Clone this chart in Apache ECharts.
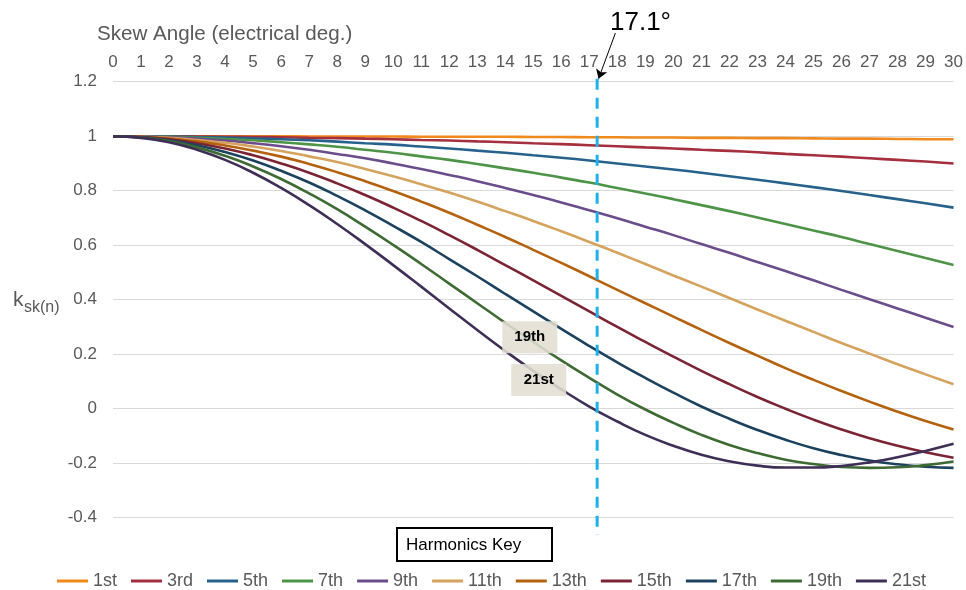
<!DOCTYPE html>
<html>
<head>
<meta charset="utf-8">
<script src="https://cdn.jsdelivr.net/npm/echarts@6/dist/echarts.min.js"></script>
<style>
html,body{margin:0;padding:0;background:#fff;}
#chart{width:966px;height:590px;}
</style>
</head>
<body>
<div id="chart"></div>
<script>
// Skew angle (electrical degrees) – x values
const angles = [0,1,2,3,4,5,6,7,8,9,10,11,12,13,14,15,16,17,18,19,20,21,22,23,24,25,26,27,28,29,30];

// Harmonic names (legend)
const harmonicNames = ['1st','3rd','5th','7th','9th','11th','13th','15th','17th','19th','21st'];

// k_sk(n) values, one array per harmonic
const h1  = [1,1,1,1,1,1,1,0.999,0.999,0.999,0.999,0.998,0.998,0.998,0.998,0.997,0.997,0.996,0.996,0.995,0.995,0.994,0.994,0.993,0.993,0.992,0.991,0.991,0.990,0.989,0.989];
const h3  = [1,1,1,0.999,0.998,0.997,0.996,0.994,0.993,0.991,0.989,0.986,0.984,0.981,0.978,0.974,0.971,0.967,0.963,0.959,0.955,0.950,0.946,0.941,0.935,0.930,0.925,0.919,0.913,0.907,0.900];
const h5  = [1,1,0.999,0.997,0.995,0.992,0.989,0.985,0.980,0.974,0.969,0.962,0.955,0.947,0.939,0.930,0.921,0.911,0.900,0.889,0.878,0.866,0.853,0.840,0.827,0.813,0.799,0.784,0.769,0.754,0.738];
const h7  = [1,0.999,0.998,0.994,0.990,0.985,0.978,0.970,0.961,0.950,0.939,0.926,0.913,0.898,0.882,0.866,0.848,0.830,0.810,0.790,0.769,0.747,0.725,0.702,0.678,0.654,0.630,0.604,0.579,0.553,0.527];
const h9  = [1,0.999,0.996,0.991,0.984,0.974,0.963,0.950,0.935,0.919,0.900,0.880,0.858,0.835,0.810,0.784,0.757,0.728,0.699,0.668,0.637,0.604,0.572,0.538,0.505,0.471,0.436,0.402,0.368,0.334,0.300];
const h11 = [1,0.998,0.994,0.986,0.976,0.962,0.946,0.926,0.905,0.880,0.853,0.824,0.793,0.760,0.725,0.689,0.651,0.612,0.572,0.531,0.489,0.448,0.406,0.364,0.323,0.282,0.241,0.202,0.163,0.126,0.090];
const h13 = [1,0.998,0.991,0.981,0.966,0.947,0.925,0.898,0.868,0.835,0.799,0.760,0.719,0.675,0.630,0.583,0.535,0.486,0.436,0.387,0.338,0.289,0.241,0.195,0.149,0.106,0.065,0.026,-0.011,-0.045,-0.076];
const h15 = [1,0.997,0.989,0.974,0.955,0.930,0.900,0.866,0.827,0.784,0.738,0.689,0.637,0.583,0.527,0.471,0.414,0.357,0.300,0.245,0.191,0.139,0.090,0.043,0,-0.040,-0.076,-0.108,-0.136,-0.160,-0.180];
const h17 = [1,0.996,0.985,0.967,0.942,0.911,0.873,0.830,0.781,0.728,0.671,0.612,0.549,0.486,0.421,0.357,0.293,0.230,0.170,0.113,0.059,0.008,-0.037,-0.078,-0.114,-0.145,-0.170,-0.190,-0.204,-0.213,-0.217];
const h19 = [1,0.995,0.982,0.959,0.928,0.889,0.843,0.790,0.732,0.668,0.601,0.531,0.459,0.387,0.315,0.245,0.177,0.113,0.052,-0.003,-0.052,-0.096,-0.133,-0.163,-0.187,-0.203,-0.214,-0.217,-0.215,-0.207,-0.194];
const h21 = [1,0.994,0.978,0.950,0.913,0.866,0.810,0.747,0.678,0.604,0.527,0.448,0.368,0.289,0.212,0.139,0.071,0.008,-0.047,-0.096,-0.136,-0.169,-0.193,-0.209,-0.216,-0.216,-0.210,-0.197,-0.178,-0.155,-0.129];

const seriesValues = [h1,h3,h5,h7,h9,h11,h13,h15,h17,h19,h21];
const colors = ['#F08A1D','#A4303F','#27628C','#4D9447','#6B4D8C','#D6A35E','#B5620F','#7B2433','#1C425E','#3E6A33','#3F2F57'];

// Marked skew angle and annotation extents (annotation axis values)
const markAngle = 17.25;
const markLabel = '17.1°';
const yTicks = {min:-0.4, max:1.2, interval:0.2};

const FONT = '"Liberation Sans", Arial, sans-serif';

const chart = echarts.init(document.getElementById('chart'), null, {renderer:'canvas'});

const series = harmonicNames.map((name, i) => {
  const s = {
    name: name,
    type: 'line',
    xAxisIndex: 0,
    yAxisIndex: 0,
    data: angles.map((a, j) => [a, seriesValues[i][j]]),
    symbol: 'none',
    smooth: true,
    lineStyle: {color: colors[i], width: 2.6},
    itemStyle: {color: colors[i]},
    emphasis: {disabled: true},
    z: 2
  };
  if (name === '19th' || name === '21st') {
    const coord = name === '19th' ? [14.875, 0.262] : [15.195, 0.105];
    s.markPoint = {
      silent: true,
      symbol: 'rect',
      symbolSize: [55, 32],
      itemStyle: {color: 'rgba(226,222,210,0.88)'},
      label: {show: true, position: 'inside', formatter: name, color: '#000', fontSize: 15, fontWeight: 'bold', fontFamily: FONT},
      data: [{coord: coord}],
      z: 6
    };
  }
  return s;
});

// dashed marker line and arrow on an annotation grid that shares the same pixel mapping
series.push({
  type: 'line',
  xAxisIndex: 1,
  yAxisIndex: 1,
  data: [[markAngle, 1.217], [markAngle, -0.4635]],
  symbol: 'none',
  silent: true,
  clip: false,
  lineStyle: {color: '#1FB1EC', width: 3, type: [11, 8]},
  z: 5,
  markLine: {
    silent: true,
    symbol: ['none', 'arrow'],
    symbolSize: 9,
    label: {show: false},
    lineStyle: {color: '#000', width: 1, type: 'solid'},
    data: [[{coord: [17.9, 1.3853]}, {coord: [17.3, 1.217]}]]
  }
});

const option = {
  animation: false,
  backgroundColor: '#fff',
  textStyle: {fontFamily: FONT},
  grid: [
    {left: 113, right: 11, top: 81.7, bottom: 72.3},
    {left: 113, right: 11, top: 33, bottom: 55}
  ],
  xAxis: [
    {
      type: 'value', position: 'top', min: 0, max: 30, interval: 1,
      axisLine: {show: false}, axisTick: {show: false}, splitLine: {show: false},
      axisLabel: {color: '#595959', fontSize: 17, margin: 11, fontFamily: FONT}
    },
    {gridIndex: 1, type: 'value', min: 0, max: 30, show: false}
  ],
  yAxis: [
    {
      type: 'value', min: yTicks.min, max: yTicks.max, interval: yTicks.interval,
      axisLine: {show: false}, axisTick: {show: false},
      splitLine: {lineStyle: {color: '#D9D9D9', width: 1}},
      axisLabel: {color: '#595959', fontSize: 17, margin: 16, fontFamily: FONT}
    },
    {gridIndex: 1, type: 'value', min: -0.4635, max: 1.3853, show: false}
  ],
  legend: {
    data: harmonicNames,
    top: 567,
    left: 52,
    icon: 'rect',
    itemWidth: 31,
    itemHeight: 3,
    itemGap: 14,
    selectedMode: false,
    textStyle: {color: '#595959', fontSize: 18, fontFamily: FONT}
  },
  graphic: [
    {type: 'text', x: 97, y: 34.5, style: {text: 'Skew Angle (electrical deg.)', fontSize: 20.6, fontFamily: FONT, fill: '#595959', verticalAlign: 'middle'}},
    {type: 'text', x: 610, y: 23, style: {text: markLabel, fontSize: 26, fontFamily: FONT, fill: '#000', verticalAlign: 'middle'}},
    {type: 'text', x: 13, y: 300, style: {text: 'k', fontSize: 21, fontFamily: FONT, fill: '#595959', verticalAlign: 'middle'}},
    {type: 'text', x: 24, y: 307.5, style: {text: 'sk(n)', fontSize: 16, fontFamily: FONT, fill: '#595959', verticalAlign: 'middle'}},
    {type: 'rect', shape: {x: 397, y: 528, width: 155, height: 33}, style: {fill: '#fff', stroke: '#000', lineWidth: 2}, z: 10},
    {type: 'text', x: 406, y: 545, style: {text: 'Harmonics Key', fontSize: 17, fontFamily: FONT, fill: '#000', verticalAlign: 'middle'}, z: 11}
  ],
  series: series
};

chart.setOption(option);
</script>
</body>
</html>
